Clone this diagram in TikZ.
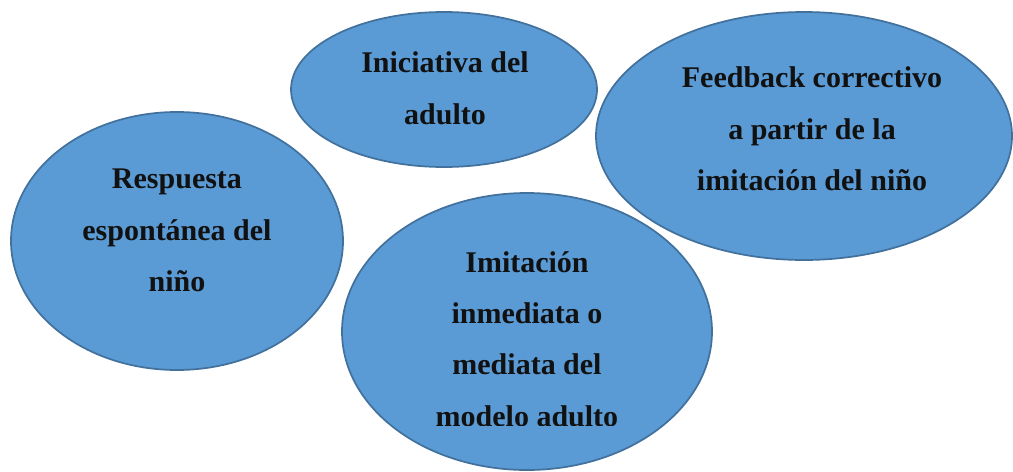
\documentclass[tikz,border=0pt]{standalone}
\usepackage{fontspec}
\setmainfont{Liberation Serif}
\usetikzlibrary{shapes.geometric, positioning}
\definecolor{bubblefill}{HTML}{5B9BD5}
\definecolor{bubbleline}{HTML}{41719C}
\definecolor{bubbletext}{HTML}{111111}

\begin{document}
\begin{tikzpicture}[x=0.75pt, y=-0.75pt,
    bubble/.style={ellipse, fill=bubblefill, draw=bubbleline, line width=1.3pt, inner sep=0pt},
    bubbletxt/.style={align=center, text=bubbletext, inner sep=0pt,
      font=\fontsize{22.5}{38.6}\selectfont\bfseries}]

  \useasboundingbox (0,0) rectangle (1013,471);

  % Ellipses
  \node[bubble, minimum width=229.5pt, minimum height=116.25pt] (ini) at (444,89.5) {};
  \node[bubble, minimum width=312pt, minimum height=186pt] (fb) at (804,136) {};
  \node[bubble, minimum width=249pt, minimum height=193.5pt] (re) at (177,241) {};
  \node[bubble, minimum width=277.5pt, minimum height=207.75pt] (im) at (527,331.5) {};

  % Texts
  \node[bubbletxt] (iniT) at (445,88.5) {Iniciativa del\\adulto};
  \node[bubbletxt] (fbT) at (812,129) {Feedback correctivo\\a partir de la\\imitación del niño};
  \node[bubbletxt] (reT) at (177,230.5) {Respuesta\\espontánea del\\niño};
  \begin{scope}
    \clip (342,190) rectangle (712,425);
    \node[bubbletxt] (imT) at (527,339) {Imitación\\inmediata o\\mediata del\\modelo adulto};
  \end{scope}

\end{tikzpicture}
\end{document}
